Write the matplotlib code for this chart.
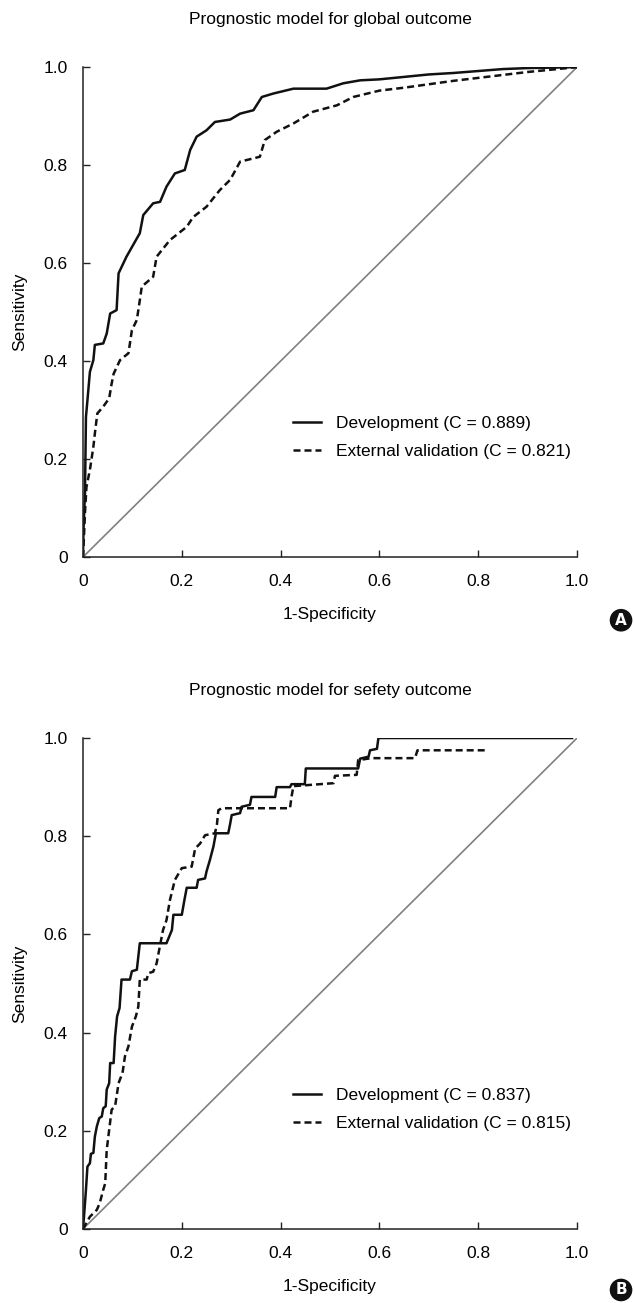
import matplotlib
matplotlib.use("Agg")
import matplotlib.pyplot as plt

plt.rcParams["font.family"] = ["Liberation Sans", "DejaVu Sans"]
FONT = 12.5

# --- panel A: global outcome (1-specificity, sensitivity) ---
a_dev_x = [0, 0.001, 0.004, 0.006, 0.009, 0.014, 0.021, 0.024, 0.041, 0.048, 0.055, 0.068,
           0.072, 0.088, 0.115, 0.122, 0.142, 0.156, 0.169, 0.186, 0.206, 0.217, 0.230,
           0.250, 0.267, 0.298, 0.318, 0.345, 0.362, 0.385, 0.426, 0.493, 0.527, 0.561,
           0.60, 0.65, 0.70, 0.75, 0.80, 0.85, 0.90, 1.0]
a_dev_y = [0, 0.055, 0.131, 0.286, 0.320, 0.378, 0.402, 0.433, 0.436, 0.456, 0.497, 0.504,
           0.579, 0.613, 0.661, 0.698, 0.722, 0.725, 0.756, 0.783, 0.790, 0.831, 0.858,
           0.871, 0.888, 0.893, 0.905, 0.912, 0.939, 0.946, 0.956, 0.956, 0.967, 0.973,
           0.975, 0.980, 0.985, 0.988, 0.992, 0.996, 0.998, 1.0]
a_ext_x = [0, 0.001, 0.004, 0.007, 0.014, 0.021, 0.024, 0.029, 0.041, 0.053, 0.058, 0.062,
           0.075, 0.092, 0.099, 0.109, 0.115, 0.119, 0.142, 0.149, 0.176, 0.210, 0.223,
           0.250, 0.277, 0.298, 0.318, 0.358, 0.368, 0.392, 0.426, 0.466, 0.514, 0.547,
           0.60, 0.65, 0.70, 0.75, 0.80, 0.85, 0.90, 0.95, 1.0]
a_ext_y = [0, 0.02, 0.09, 0.143, 0.178, 0.225, 0.252, 0.293, 0.307, 0.324, 0.354, 0.374,
           0.402, 0.416, 0.463, 0.484, 0.524, 0.552, 0.572, 0.613, 0.647, 0.674, 0.694,
           0.715, 0.749, 0.770, 0.807, 0.817, 0.851, 0.868, 0.885, 0.909, 0.922, 0.939,
           0.952, 0.958, 0.965, 0.972, 0.978, 0.984, 0.990, 0.995, 1.0]

# --- panel B: safety outcome ---
b_dev_x = [0, 0.002, 0.006, 0.009, 0.014, 0.016, 0.021, 0.024, 0.028, 0.033, 0.038, 0.041,
           0.046, 0.048, 0.053, 0.055, 0.062, 0.065, 0.069, 0.074, 0.078, 0.095, 0.099,
           0.109, 0.115, 0.169, 0.180, 0.183, 0.200, 0.206, 0.210, 0.230, 0.233, 0.247,
           0.250, 0.257, 0.264, 0.269, 0.294, 0.298, 0.301, 0.318, 0.321, 0.338, 0.341,
           0.389, 0.392, 0.419, 0.422, 0.449, 0.451, 0.557, 0.561, 0.578, 0.581, 0.595,
           0.598, 0.99]
b_dev_y = [0, 0.025, 0.080, 0.127, 0.134, 0.153, 0.155, 0.188, 0.209, 0.226, 0.229, 0.246,
           0.250, 0.284, 0.297, 0.338, 0.338, 0.392, 0.433, 0.450, 0.508, 0.508, 0.525,
           0.528, 0.582, 0.582, 0.609, 0.640, 0.640, 0.674, 0.695, 0.695, 0.711, 0.714,
           0.728, 0.752, 0.779, 0.806, 0.806, 0.826, 0.843, 0.847, 0.860, 0.864, 0.880,
           0.880, 0.900, 0.900, 0.906, 0.906, 0.938, 0.938, 0.958, 0.962, 0.975, 0.978,
           1.0, 1.0]
b_ext_x = [0, 0.014, 0.028, 0.034, 0.041, 0.045, 0.048, 0.053, 0.058, 0.065, 0.072, 0.080,
           0.085, 0.092, 0.099, 0.107, 0.112, 0.115, 0.129, 0.132, 0.142, 0.149, 0.156,
           0.162, 0.169, 0.176, 0.186, 0.200, 0.220, 0.227, 0.237, 0.247, 0.267, 0.271,
           0.274, 0.281, 0.419, 0.422, 0.426, 0.507, 0.510, 0.554, 0.557, 0.584, 0.672,
           0.677, 0.817]
b_ext_y = [0, 0.025, 0.039, 0.053, 0.080, 0.093, 0.161, 0.202, 0.243, 0.250, 0.297, 0.318,
           0.352, 0.372, 0.412, 0.433, 0.453, 0.508, 0.508, 0.521, 0.524, 0.541, 0.578,
           0.609, 0.629, 0.670, 0.711, 0.735, 0.738, 0.775, 0.785, 0.802, 0.806, 0.823,
           0.853, 0.857, 0.857, 0.880, 0.902, 0.908, 0.923, 0.925, 0.955, 0.959, 0.959,
           0.975, 0.975]

panels = [
    ("Prognostic model for global outcome", a_dev_x, a_dev_y, a_ext_x, a_ext_y,
     "0.889", "0.821", "A"),
    ("Prognostic model for sefety outcome", b_dev_x, b_dev_y, b_ext_x, b_ext_y,
     "0.837", "0.815", "B"),
]
ticks = [0, 0.2, 0.4, 0.6, 0.8, 1.0]
tick_labels = ["0", "0.2", "0.4", "0.6", "0.8", "1.0"]

fig = plt.figure(figsize=(6.35, 13.03), dpi=100)
rects = [[0.1307, 0.5725, 0.778, 0.376], [0.1307, 0.0568, 0.778, 0.3768]]
badge_y = [0.524, 0.010]

for rect, (title, dx, dy, ex, ey, c_dev, c_ext, tag), by in zip(rects, panels, badge_y):
    ax = fig.add_axes(rect)
    ax.plot([0, 1], [0, 1], color="#808080", lw=1.2)
    ax.plot(dx, dy, color="#111111", lw=1.8,
            label=f"Development (C = {c_dev})")
    ax.plot(ex, ey, color="#111111", lw=1.8, linestyle=(0, (2.8, 1.6)),
            label=f"External validation (C = {c_ext})")

    ax.set_xlim(0, 1)
    ax.set_ylim(0, 1)
    ax.spines["top"].set_visible(False)
    ax.spines["right"].set_visible(False)
    for s in ("left", "bottom"):
        ax.spines[s].set_linewidth(1.1)
        ax.spines[s].set_color("#222222")
    ax.set_xticks(ticks)
    ax.set_xticklabels(tick_labels, fontsize=FONT)
    ax.set_yticks(ticks)
    ax.set_yticklabels(tick_labels, fontsize=FONT)
    ax.tick_params(axis="both", direction="in", length=5, width=1.0, color="#222222")
    ax.tick_params(axis="x", pad=12)
    ax.tick_params(axis="y", pad=11)

    ax.set_xlabel("1-Specificity", fontsize=FONT, labelpad=13)
    ax.set_ylabel("Sensitivity", fontsize=FONT, labelpad=12)
    ax.set_title(title, fontsize=FONT, pad=31)

    ax.legend(loc="center left", bbox_to_anchor=(0.425, 0.244), frameon=False,
              fontsize=FONT, handlelength=1.6, handletextpad=0.9,
              labelspacing=0.75, borderpad=0, borderaxespad=0)

    fig.text(0.978, by, tag, ha="center", va="center", fontsize=11,
             fontweight="bold", color="white", family="DejaVu Sans",
             bbox=dict(boxstyle="circle,pad=0.25", fc="#111111", ec="none"))

fig.savefig("out.png", dpi=100)
